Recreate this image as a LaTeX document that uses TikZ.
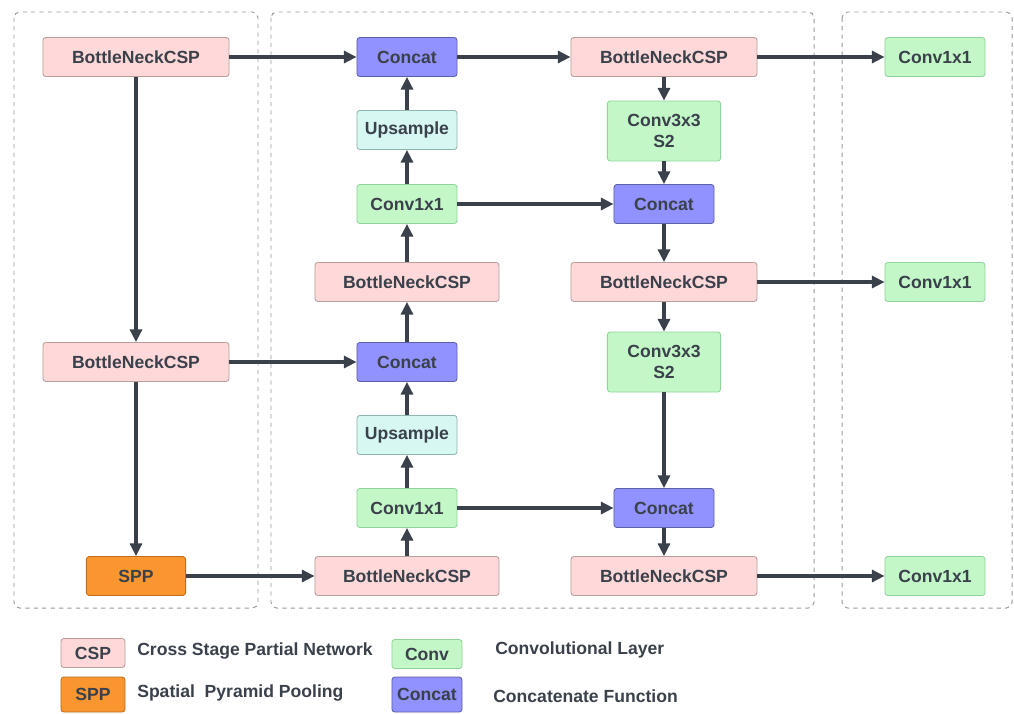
\documentclass[tikz,border=0pt]{standalone}
\usepackage{fontspec}
\setmainfont{Liberation Sans}
\usepackage{xcolor}
\usepackage{tikz}
\usetikzlibrary{positioning,calc,arrows.meta}

\definecolor{cspfill}{HTML}{FFD9D9}
\definecolor{cspline}{HTML}{B99C9C}
\definecolor{convfill}{HTML}{C3F7C8}
\definecolor{convline}{HTML}{8FD49A}
\definecolor{catfill}{HTML}{9191FF}
\definecolor{catline}{HTML}{5E5EA8}
\definecolor{upfill}{HTML}{D6F7F2}
\definecolor{upline}{HTML}{8FB3AE}
\definecolor{sppfill}{HTML}{F9962F}
\definecolor{sppline}{HTML}{BF6E1E}
\definecolor{ink}{HTML}{3A414A}
\definecolor{frame}{HTML}{9A9A9A}

\begin{document}
\begin{tikzpicture}[x=0.025cm, y=-0.025cm,
  box/.style={draw, rounded corners=2pt, line width=0.6pt, text=ink, inner sep=0pt,
    align=center, minimum height=0.975cm, font=\fontsize{12.5}{15.5}\selectfont\bfseries},
  csp/.style={box, fill=cspfill, draw=cspline, minimum width=4.65cm},
  conv/.style={box, fill=convfill, draw=convline, minimum width=2.5cm},
  convs/.style={box, fill=convfill, draw=convline, minimum width=2.83cm, minimum height=1.5cm},
  concat/.style={box, fill=catfill, draw=catline, minimum width=2.5cm},
  upsample/.style={box, fill=upfill, draw=upline, minimum width=2.5cm},
  spp/.style={box, fill=sppfill, draw=sppline, minimum width=2.48cm},
  flow/.style={line width=2.3pt, draw=ink, -{Triangle[length=9pt,width=8.5pt]}},
  legtxt/.style={anchor=west, text=ink, inner sep=0pt, font=\fontsize{12.5}{15}\selectfont\bfseries}]
  \useasboundingbox (0,0) rectangle (1014,713);

  % Stage frames
  \draw[frame, dashed, line width=0.7pt, rounded corners=4pt] (14,12) rectangle (258,608);
  \draw[frame, dashed, line width=0.7pt, rounded corners=4pt] (271,12) rectangle (814,608);
  \draw[frame, dashed, line width=0.7pt, rounded corners=4pt] (842,12) rectangle (1012,608);

  % Backbone column
  \node[csp] (bnL1) at (136,57) {BottleNeckCSP};
  \node[csp] (bnL2) at (136,362) {BottleNeckCSP};
  \node[spp] (spp) at (136,576) {SPP};

  % Top-down column
  \node[concat] (cat1) at (407,57) {Concat};
  \node[upsample] (up1) at (407,130) {Upsample};
  \node[conv] (cv1) at (407,204) {Conv1x1};
  \node[csp, minimum width=4.6cm] (bnM1) at (407,282) {BottleNeckCSP};
  \node[concat] (cat2) at (407,362) {Concat};
  \node[upsample] (up2) at (407,435) {Upsample};
  \node[conv] (cv2) at (407,508) {Conv1x1};
  \node[csp, minimum width=4.6cm] (bnM2) at (407,576) {BottleNeckCSP};

  % Bottom-up column
  \node[csp] (bnR1) at (664,57) {BottleNeckCSP};
  \node[convs] (c3a) at (664,131) {Conv3x3\\S2};
  \node[concat] (catR1) at (664,204) {Concat};
  \node[csp] (bnR2) at (664,282) {BottleNeckCSP};
  \node[convs] (c3b) at (664,362) {Conv3x3\\S2};
  \node[concat] (catR2) at (664,508) {Concat};
  \node[csp] (bnR3) at (664,576) {BottleNeckCSP};

  % Outputs
  \node[conv] (outA) at (935,57) {Conv1x1};
  \node[conv] (outB) at (935,282) {Conv1x1};
  \node[conv] (outC) at (935,576) {Conv1x1};

  % Connections
  \draw[flow] (bnL1) -- (cat1);
  \draw[flow] (bnL1) -- (bnL2);
  \draw[flow] (bnL2) -- (cat2);
  \draw[flow] (bnL2) -- (spp);
  \draw[flow] (spp) -- (bnM2);
  \draw[flow] (bnM2) -- (cv2);
  \draw[flow] (cv2) -- (up2);
  \draw[flow] (up2) -- (cat2);
  \draw[flow] (cat2) -- (bnM1);
  \draw[flow] (bnM1) -- (cv1);
  \draw[flow] (cv1) -- (up1);
  \draw[flow] (up1) -- (cat1);
  \draw[flow] (cat1) -- (bnR1);
  \draw[flow] (bnR1) -- (c3a);
  \draw[flow] (c3a) -- (catR1);
  \draw[flow] (cv1) -- (catR1);
  \draw[flow] (catR1) -- (bnR2);
  \draw[flow] (bnR2) -- (c3b);
  \draw[flow] (c3b) -- (catR2);
  \draw[flow] (cv2) -- (catR2);
  \draw[flow] (catR2) -- (bnR3);
  \draw[flow] (bnR1) -- (outA);
  \draw[flow] (bnR2) -- (outB);
  \draw[flow] (bnR3) -- (outC);

  % Legend
  \node[csp, minimum width=1.6cm, minimum height=0.725cm] (legCsp) at (93,653) {CSP};
  \node[spp, minimum width=1.6cm, minimum height=0.875cm] (legSpp) at (93,694.5) {SPP};
  \node[conv, minimum width=1.75cm, minimum height=0.725cm] (legConv) at (427,654) {Conv};
  \node[concat, minimum width=1.75cm, minimum height=0.875cm] (legCat) at (427,694.5) {Concat};
  \node[legtxt] (legCspTxt) at (137,651) {Cross Stage Partial Network};
  \node[legtxt] (legSppTxt) at (137,693) {Spatial\ \ Pyramid Pooling};
  \node[legtxt] (legConvTxt) at (495,650) {Convolutional Layer};
  \node[legtxt] (legCatTxt) at (493,696) {Concatenate Function};
\end{tikzpicture}
\end{document}
